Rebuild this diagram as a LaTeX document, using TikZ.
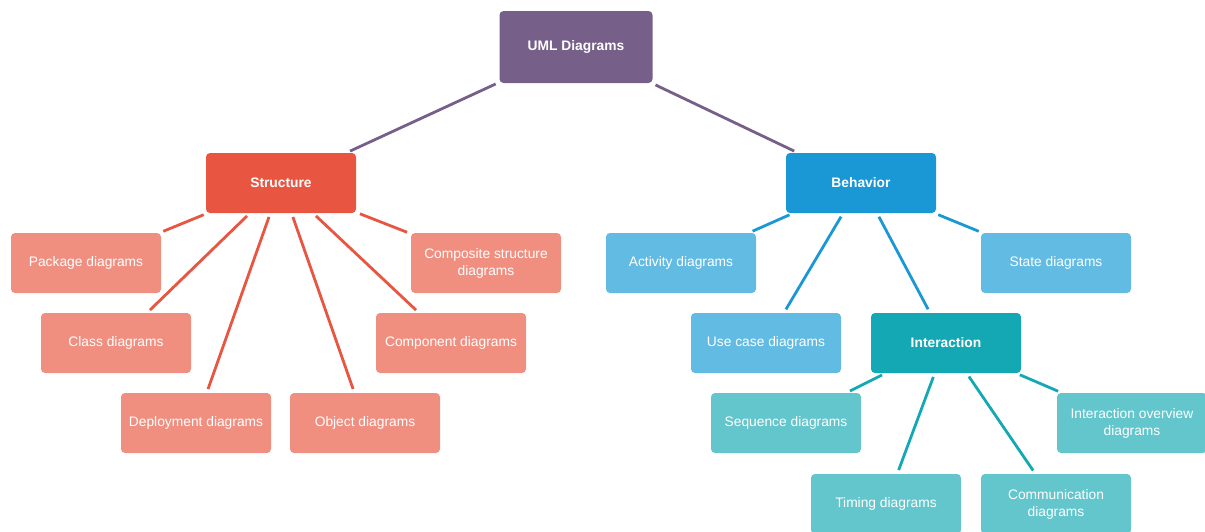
\documentclass[tikz,border=0pt]{standalone}
\usepackage{fontspec}
\setmainfont{Liberation Sans}
\definecolor{cuml}{HTML}{765F89}
\definecolor{cstr}{HTML}{E85642}
\definecolor{cstrl}{HTML}{F08F80}
\definecolor{cbeh}{HTML}{1A98D5}
\definecolor{cbehl}{HTML}{62BBE3}
\definecolor{cint}{HTML}{14A8B5}
\definecolor{cintl}{HTML}{62C6CC}
\tikzset{
  box/.style={rounded corners=4pt, minimum width=150pt, minimum height=60pt, inner sep=0pt,
    text=white, align=center, font=\fontsize{13.8pt}{17pt}\selectfont},
  head/.style={box, font=\fontsize{13.8pt}{17pt}\selectfont\bfseries},
  link/.style={line width=2.8pt, shorten <=4pt, shorten >=4pt},
}
\begin{document}
\begin{tikzpicture}[x=1pt,y=-1pt]
\useasboundingbox (0,0) rectangle (1205,531);
\clip (0,0) rectangle (1205,531);
% nodes
\node[head, fill=cuml, minimum width=153pt, minimum height=72pt] (uml) at (576,47) {UML Diagrams};
\node[head, fill=cstr] (str) at (281,183) {Structure};
\node[head, fill=cbeh] (beh) at (861,183) {Behavior};
\node[box, fill=cstrl] (pkg) at (86,263) {Package diagrams};
\node[box, fill=cstrl] (cls) at (116,343) {Class diagrams};
\node[box, fill=cstrl] (dep) at (196,423) {Deployment diagrams};
\node[box, fill=cstrl] (obj) at (365,423) {Object diagrams};
\node[box, fill=cstrl] (cmp) at (451,343) {Component diagrams};
\node[box, fill=cstrl] (csd) at (486,263) {Composite structure\\diagrams};
\node[box, fill=cbehl] (act) at (681,263) {Activity diagrams};
\node[box, fill=cbehl] (use) at (766,343) {Use case diagrams};
\node[box, fill=cbehl] (sta) at (1056,263) {State diagrams};
\node[head, fill=cint] (int) at (946,343) {Interaction};
\node[box, fill=cintl] (seq) at (786,423) {Sequence diagrams};
\node[box, fill=cintl] (tim) at (886,504) {Timing diagrams};
\node[box, fill=cintl] (com) at (1056,504) {Communication\\diagrams};
\node[box, fill=cintl] (iov) at (1132,423) {Interaction overview\\diagrams};
% links
\draw[link, cuml] (uml) -- (str);
\draw[link, cuml] (uml) -- (beh);
\foreach \t in {pkg,cls,dep,obj,cmp,csd} \draw[link, cstr] (str) -- (\t);
\foreach \t in {act,use,int,sta} \draw[link, cbeh] (beh) -- (\t);
\foreach \t in {seq,tim,com,iov} \draw[link, cint] (int) -- (\t);
\end{tikzpicture}
\end{document}
